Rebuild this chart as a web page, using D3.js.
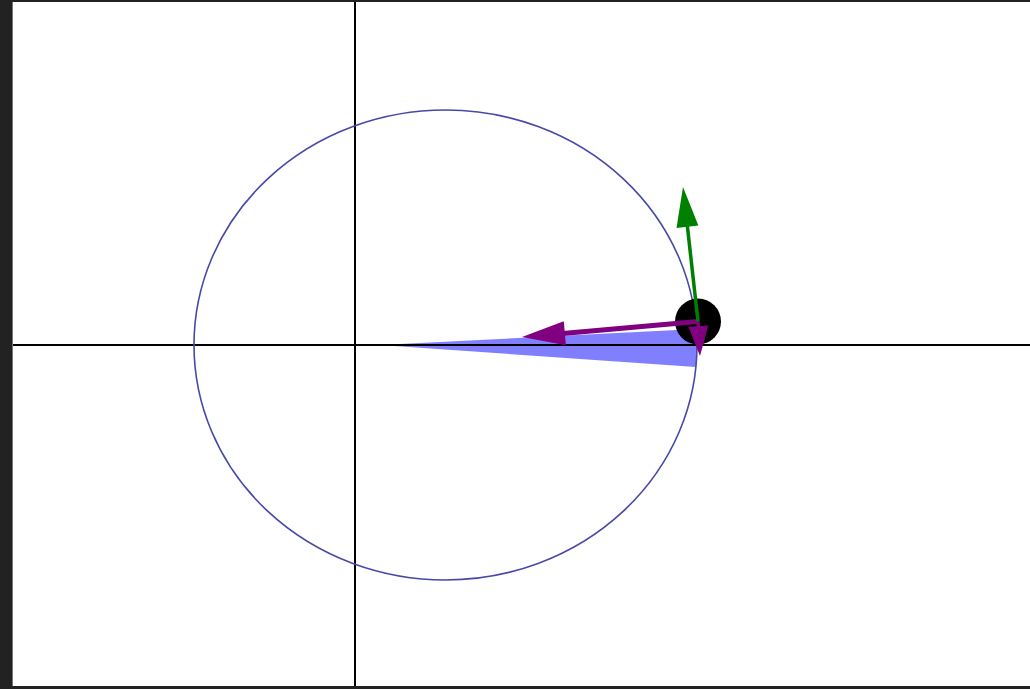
<!DOCTYPE html>
<html>
<head>
<meta charset="utf-8">
<script src="https://cdn.jsdelivr.net/npm/d3@7"></script>
<style>
  html, body { margin:0; padding:0; background:#222; overflow:hidden; }
  svg { position:absolute; left:12px; top:2px; background:#fff; border-left:1px solid #777; }
</style>
</head>
<body>
<svg id="chart"></svg>
<script>
// orbit picture values, in world units (1 unit ~ 100px)
var orbitCenter=[0.905,0];
var orbitRadii=[2.515,2.35];
var focus=[0.25,0];
var sweepY=[0.16,-0.22];        // y of the two ends of the swept wedge on the orbit
var planet=[3.43,0.235];
var planetRadius=0.23;
var velocityTip=[3.28,1.58];
var forceTip=[1.67,0.08];
var deltaTip=[3.45,-0.11];

var width=1018;
var height=684;

var xScale=d3.scaleLinear()
             .domain([-3.42,6.76])
             .range([0,width]);

var yScale=d3.scaleLinear()
             .domain([3.43,-3.41])
             .range([0,height]);

var svg=d3.select("#chart")
          .attr("width",width)
          .attr("height",height);

// point on the right side of the orbit for a given y
function orbitPoint(y){
  var t=(y-orbitCenter[1])/orbitRadii[1];
  return [orbitCenter[0]+orbitRadii[0]*Math.sqrt(1-t*t),y];
}

var rxPx=xScale(orbitRadii[0])-xScale(0);
var ryPx=yScale(0)-yScale(orbitRadii[1]);

// swept area wedge
var p1=orbitPoint(sweepY[0]);
var p2=orbitPoint(sweepY[1]);
svg.append("path")
    .attr("d","M"+xScale(focus[0])+","+yScale(focus[1])+
              " L"+xScale(p1[0])+","+yScale(p1[1])+
              " A"+rxPx+","+ryPx+" 0 0 1 "+xScale(p2[0])+","+yScale(p2[1])+" Z")
    .attr("fill","#7f7fff");

// axes through the origin
svg.append("line")
    .attr("x1",0).attr("x2",width)
    .attr("y1",yScale(0)).attr("y2",yScale(0))
    .attr("stroke","#000").attr("stroke-width",2);

svg.append("line")
    .attr("x1",xScale(0)).attr("x2",xScale(0))
    .attr("y1",0).attr("y2",height)
    .attr("stroke","#000").attr("stroke-width",2);

// orbit
svg.append("ellipse")
    .attr("cx",xScale(orbitCenter[0]))
    .attr("cy",yScale(orbitCenter[1]))
    .attr("rx",rxPx)
    .attr("ry",ryPx)
    .attr("fill","none")
    .attr("stroke","#4848a8")
    .attr("stroke-width",1.6);

// planet
svg.append("circle")
    .attr("cx",xScale(planet[0]))
    .attr("cy",yScale(planet[1]))
    .attr("r",xScale(planetRadius)-xScale(0))
    .attr("fill","#000");

function arrow(from,to,color,lineW,headLen,headW){
  var x1=xScale(from[0]),y1=yScale(from[1]);
  var x2=xScale(to[0]),y2=yScale(to[1]);
  var dx=x2-x1,dy=y2-y1,len=Math.sqrt(dx*dx+dy*dy);
  var ux=dx/len,uy=dy/len;
  var bx=x2-ux*headLen,by=y2-uy*headLen;
  svg.append("line")
      .attr("x1",x1).attr("y1",y1)
      .attr("x2",bx+ux*2).attr("y2",by+uy*2)
      .attr("stroke",color)
      .attr("stroke-width",lineW);
  svg.append("polygon")
      .attr("points",[[x2,y2],[bx-uy*headW/2,by+ux*headW/2],[bx+uy*headW/2,by-ux*headW/2]].join(" "))
      .attr("fill",color);
}

arrow(planet,forceTip,"#800080",5,43,24);
arrow(planet,deltaTip,"#800080",3.5,30,20);
arrow(planet,velocityTip,"#008000",3.5,40,22);
</script>
</body>
</html>
